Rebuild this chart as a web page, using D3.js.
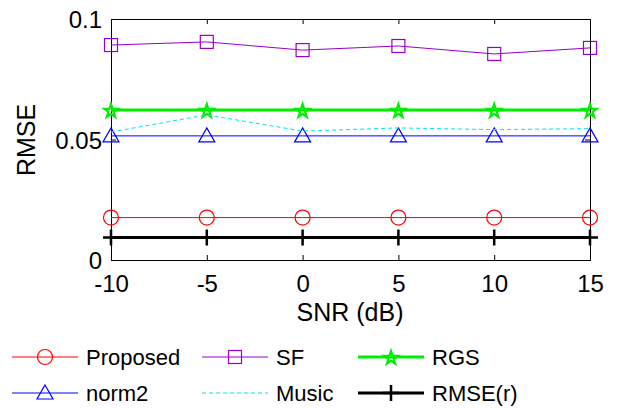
<!DOCTYPE html>
<html>
<head>
<meta charset="utf-8">
<script src="https://cdn.jsdelivr.net/npm/d3@7"></script>
<style>
  body { margin: 0; background: #fff; }
  text { font-family: "Liberation Sans", Arial, sans-serif; }
</style>
</head>
<body>
<svg id="chart"></svg>
<script>
var snr = [-10, -5, 0, 5, 10, 15];
var proposed = [0.0176, 0.0176, 0.0176, 0.0176, 0.0176, 0.0176];
var sf = [0.0892, 0.0905, 0.0871, 0.0888, 0.0855, 0.0880];
var rgs = [0.0622, 0.0622, 0.0622, 0.0622, 0.0622, 0.0622];
var norm2 = [0.0515, 0.0515, 0.0515, 0.0515, 0.0515, 0.0515];
var music = [0.0531, 0.0602, 0.0535, 0.0548, 0.0541, 0.0545];
var rmser = [0.0093, 0.0093, 0.0093, 0.0093, 0.0093, 0.0093];
var xTicks = [-10, -5, 0, 5, 10, 15];
var yTicks = [0, 0.05, 0.1];

var w = 631, h = 409;
var svg = d3.select('#chart').attr('width', w).attr('height', h);

var x = d3.scaleLinear().domain([-10, 15]).range([111, 590]);
var y = d3.scaleLinear().domain([0, 0.1]).range([260, 19]);

// series definitions
var series = [
  {name: 'Proposed', data: proposed, color: '#ff0000', width: 1, marker: 'circle'},
  {name: 'SF', data: sf, color: '#9900cc', width: 1, marker: 'square'},
  {name: 'RGS', data: rgs, color: '#00ee00', width: 3, marker: 'star'},
  {name: 'norm2', data: norm2, color: '#0000ff', width: 1, marker: 'triangle'},
  {name: 'Music', data: music, color: '#00e5ee', width: 1, marker: 'none', dash: '4,3'},
  {name: 'RMSE(r)', data: rmser, color: '#000000', width: 3, marker: 'plus'}
];

function drawMarker(g, type, cx, cy, color) {
  if (type == 'circle') {
    g.append('circle').attr('cx', cx).attr('cy', cy).attr('r', 7.5)
      .attr('fill', 'none').attr('stroke', color).attr('stroke-width', 1.2);
  } else if (type == 'square') {
    g.append('rect').attr('x', cx - 6.5).attr('y', cy - 6.5).attr('width', 13).attr('height', 13)
      .attr('fill', 'none').attr('stroke', color).attr('stroke-width', 1.2);
  } else if (type == 'triangle') {
    g.append('path').attr('d', 'M' + cx + ',' + (cy - 8) + 'L' + (cx + 8) + ',' + (cy + 6) + 'L' + (cx - 8) + ',' + (cy + 6) + 'Z')
      .attr('fill', 'none').attr('stroke', color).attr('stroke-width', 1.2);
  } else if (type == 'star') {
    g.append('path').attr('d', d3.symbol().type(d3.symbolStar).size(55)())
      .attr('transform', 'translate(' + cx + ',' + (cy + 1) + ')')
      .attr('fill', 'none').attr('stroke', color).attr('stroke-width', 2.2);
  } else if (type == 'plus') {
    g.append('path').attr('d', 'M' + (cx - 8) + ',' + cy + 'H' + (cx + 8) + 'M' + cx + ',' + (cy - 8) + 'V' + (cy + 8))
      .attr('stroke', color).attr('stroke-width', 2.5);
  }
}

var fmtX = function(d) { return String(d); };  // plain hyphen minus

var gX = svg.append('g').attr('transform', 'translate(0,260)')
  .call(d3.axisBottom(x).tickValues(xTicks).tickSize(-5).tickPadding(15).tickFormat(fmtX));
var gXt = svg.append('g').attr('transform', 'translate(0,19)')
  .call(d3.axisTop(x).tickValues(xTicks).tickSize(-5).tickFormat(''));
var gY = svg.append('g').attr('transform', 'translate(111,0)')
  .call(d3.axisLeft(y).tickValues(yTicks).tickSize(-5).tickPadding(9).tickFormat(d3.format('')));
var gYr = svg.append('g').attr('transform', 'translate(590,0)')
  .call(d3.axisRight(y).tickValues(yTicks).tickSize(-5).tickFormat(''));

[gX, gXt, gY, gYr].forEach(function(g) {
  g.select('.domain').attr('stroke', '#000').attr('stroke-width', 1);
  g.selectAll('line').attr('stroke', '#000');
  g.selectAll('text').attr('font-size', 24).attr('fill', '#000')
    .style('font-family', '"Liberation Sans", Arial, sans-serif');
});
gY.selectAll('text').attr('dy', '0.36em');

var line = d3.line().x(function(d, i) { return x(snr[i]); }).y(function(d) { return y(d); });

series.forEach(function(s) {
  var g = svg.append('g');
  g.append('path').datum(s.data).attr('d', line).attr('fill', 'none')
    .attr('stroke', s.color).attr('stroke-width', s.width)
    .attr('stroke-dasharray', s.dash || null);
  s.data.forEach(function(v, i) { drawMarker(g, s.marker, x(snr[i]), y(v), s.color); });
});

// axis labels
svg.append('text').attr('x', 350).attr('y', 321).attr('text-anchor', 'middle')
  .attr('font-size', 25).text('SNR (dB)');
svg.append('text').attr('transform', 'translate(35,140) rotate(-90)').attr('text-anchor', 'middle')
  .attr('font-size', 25).text('RMSE');

// legend
var legendX = [12, 202, 358];
var legendY = [357, 393];
series.forEach(function(s, i) {
  var lx = legendX[i % 3], ly = legendY[Math.floor(i / 3)];
  var g = svg.append('g');
  g.append('line').attr('x1', lx).attr('x2', lx + 66).attr('y1', ly).attr('y2', ly)
    .attr('stroke', s.color).attr('stroke-width', s.width)
    .attr('stroke-dasharray', s.dash || null);
  drawMarker(g, s.marker, lx + 33, ly, s.color);
  g.append('text').attr('x', lx + 74).attr('y', ly).attr('dy', '0.36em')
    .attr('font-size', 22).text(s.name);
});
</script>
</body>
</html>
